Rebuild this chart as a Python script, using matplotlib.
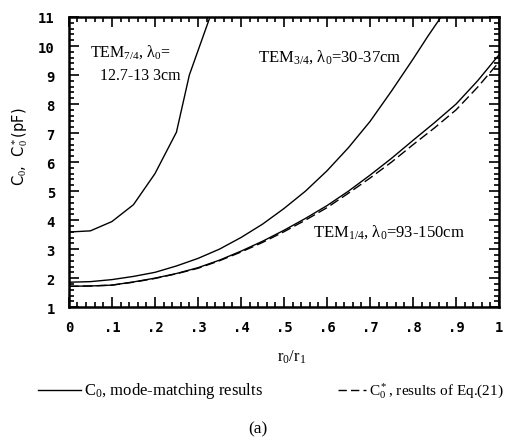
import numpy as np
import matplotlib.pyplot as plt
from matplotlib.lines import Line2D
from matplotlib.ticker import MultipleLocator, FuncFormatter

serif = 'Liberation Serif'
plt.rcParams['mathtext.fontset'] = 'custom'
plt.rcParams['mathtext.rm'] = serif
plt.rcParams['mathtext.it'] = serif
plt.rcParams['mathtext.default'] = 'rm'

# TEM_7/4 mode, mode-matching
tem74_x = [0.0, 0.05, 0.1, 0.15, 0.2, 0.25, 0.28, 0.328]
tem74_y = [3.59, 3.63, 3.95, 4.53, 5.6, 7.03, 9.0, 11.0]

# TEM_3/4 mode, mode-matching
tem34_x = [0.0, 0.05, 0.1, 0.15, 0.2, 0.25, 0.3, 0.35, 0.4, 0.45, 0.5,
           0.55, 0.6, 0.65, 0.7, 0.75, 0.8, 0.835, 0.865]
tem34_y = [1.86, 1.88, 1.95, 2.06, 2.2, 2.42, 2.68, 3.0, 3.4, 3.86, 4.4,
           5.0, 5.7, 6.5, 7.4, 8.45, 9.55, 10.35, 11.0]

# TEM_1/4 mode, mode-matching and Eq.(21)
tem14_x = [0.0, 0.05, 0.1, 0.15, 0.2, 0.25, 0.3, 0.35, 0.4, 0.45, 0.5,
           0.55, 0.6, 0.65, 0.7, 0.75, 0.8, 0.85, 0.9, 0.95, 1.0]
tem14_y = [1.72, 1.73, 1.76, 1.87, 2.0, 2.16, 2.36, 2.62, 2.93, 3.27, 3.65,
           4.06, 4.5, 5.0, 5.55, 6.13, 6.75, 7.36, 8.0, 8.8, 9.7]
eq21_y = [1.72, 1.73, 1.76, 1.86, 1.99, 2.15, 2.34, 2.6, 2.9, 3.23, 3.6,
          4.0, 4.43, 4.93, 5.45, 6.0, 6.6, 7.18, 7.8, 8.58, 9.45]

fig = plt.figure(figsize=(5.14, 4.39), dpi=100)
ax = fig.add_axes([0.134, 0.298, 0.837, 0.661])

ax.plot(tem74_x, tem74_y, color='black', lw=1.0)
ax.plot(tem34_x, tem34_y, color='black', lw=1.0)
ax.plot(tem14_x, tem14_y, color='black', lw=1.0)
ax.plot(tem14_x, eq21_y, color='black', lw=1.0, dashes=(7, 3))

ax.set_xlim(0, 1)
ax.set_ylim(1, 11)
ax.xaxis.set_major_locator(MultipleLocator(0.1))
ax.xaxis.set_minor_locator(MultipleLocator(0.02))
ax.yaxis.set_major_locator(MultipleLocator(1))
ax.yaxis.set_minor_locator(MultipleLocator(0.2))

def xfmt(v, pos):
    if abs(v) < 1e-9:
        return '0'
    if abs(v - 1) < 1e-9:
        return '1'
    return '.%d' % round(v * 10)

ax.xaxis.set_major_formatter(FuncFormatter(xfmt))
ax.tick_params(which='both', direction='in', top=True, right=True, width=1.2)
ax.tick_params(which='major', length=7)
ax.tick_params(which='minor', length=3.5)
ax.tick_params(axis='x', pad=9)
ax.tick_params(axis='y', pad=10)
for lab in ax.get_xticklabels() + ax.get_yticklabels():
    lab.set_fontfamily('DejaVu Sans Mono')
    lab.set_fontweight('bold')
    lab.set_fontsize(10)
for s in ax.spines.values():
    s.set_linewidth(1.8)

ax.text(0.05, 9.83, r'TEM$_{7/4}$, $\lambda_0$=', family=serif, fontsize=11.5, va='center')
ax.text(0.072, 9.0, '12.7-13 3cm', family=serif, fontsize=11.5, va='center')
ax.text(0.44, 9.66, r'TEM$_{3/4}$, $\lambda_0$=30-37cm', family=serif, fontsize=12, va='center')
ax.text(0.567, 3.62, r'TEM$_{1/4}$, $\lambda_0$=93-150cm', family=serif, fontsize=12, va='center')

fig.text(20 / 514, 1 - 147 / 439, r'C$_0$,  C$_0^*$(pF)', rotation=90,
         ha='center', va='center', fontsize=10.5, family='DejaVu Sans')
fig.text(292 / 514, 1 - 357 / 439, r'r$_0$/r$_1$', ha='center', va='center',
         family=serif, fontsize=12)

# legend drawn under the axes
ly = 1 - 391 / 439
fig.add_artist(Line2D([38 / 514, 81 / 514], [ly, ly], color='black', lw=1.0))
fig.text(84 / 514, ly, r'C$_0$, mode-matching results', family=serif,
         fontsize=12, va='center')
fig.add_artist(Line2D([338 / 514, 366 / 514], [ly, ly], color='black', lw=1.0,
                      dashes=(6, 3)))
fig.text(369 / 514, ly, r'C$_0^*$, results of Eq.(21)', family=serif,
         fontsize=11, va='center')
fig.text(258 / 514, 1 - 429 / 439, '(a)', family=serif, fontsize=12.5,
         ha='center', va='center')

fig.savefig('out.png', dpi=100)
